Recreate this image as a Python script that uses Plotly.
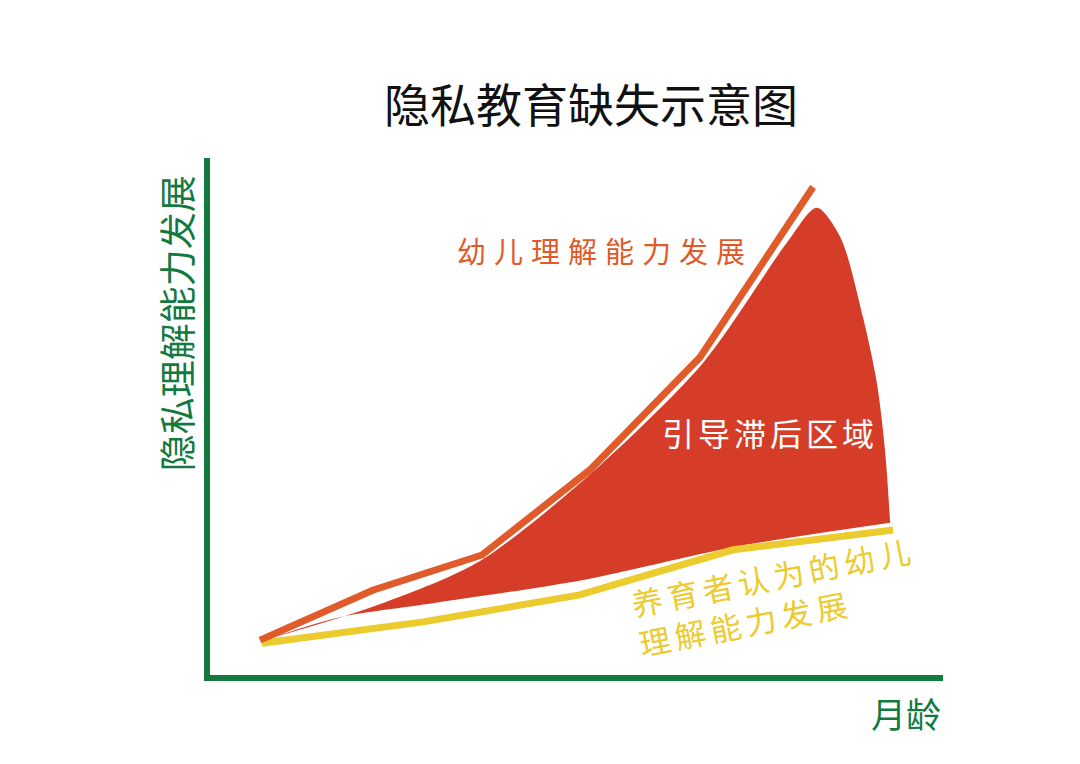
import plotly.graph_objects as go

# Data (x: 月龄 scale 0-100, y: 能力 scale 0-100)
child_x = [6.95, 22.3, 37.2, 51.9, 66.9, 82.3]
child_y = [7.5, 17.1, 23.9, 40.3, 62.0, 94.8]

carer_x = [7.2, 29.2, 50.5, 71.4, 93.2]
carer_y = [6.9, 11.0, 16.2, 24.9, 28.7]

# lagging region: lower edge and upper edge (meeting at both ends)
gap_low_x = [7.6, 17.8, 30.5, 51.0, 71.4, 92.8]
gap_low_y = [7.5, 11.9, 14.6, 19.1, 25.4, 30.1]
gap_up_x = [7.6, 22.3, 36.5, 51.0, 67.3, 78.7, 82.8, 86.0, 89.1, 91.0, 92.1, 92.8]
gap_up_y = [7.5, 13.9, 22.4, 38.3, 60.9, 84.0, 90.8, 85.2, 69.7, 57.0, 44.1, 30.1]

title = "隐私教育缺失示意图"
y_title = "隐私理解能力发展"
x_title = "月龄"
child_label = "幼儿理解能力发展"
gap_label = "引导滞后区域"
carer_label = ["养育者认为的幼儿", "理解能力发展"]

GREEN = "#13793F"
ORANGE = "#E05A2A"
RED = "#D63D28"
YELLOW = "#EBCB2E"
FONT = "Noto Sans CJK SC"


def spaced(t, px):
    return '<span style="letter-spacing:%dpx">%s</span>' % (px, t)


fig = go.Figure()
fig.add_trace(go.Scatter(x=gap_low_x, y=gap_low_y, mode="lines",
                         line=dict(color=RED, width=0, shape="spline", smoothing=0.8),
                         hoverinfo="skip", showlegend=False))
fig.add_trace(go.Scatter(x=gap_up_x, y=gap_up_y, mode="lines", fill="tonexty",
                         fillcolor=RED, line=dict(color=RED, width=0, shape="spline", smoothing=0.8),
                         hoverinfo="skip", showlegend=False))
fig.add_trace(go.Scatter(x=carer_x, y=carer_y, mode="lines",
                         line=dict(color=YELLOW, width=7), showlegend=False))
fig.add_trace(go.Scatter(x=child_x, y=child_y, mode="lines",
                         line=dict(color=ORANGE, width=7), showlegend=False))

ann = []
ann.append(dict(text=title, xref="paper", yref="paper", x=0.520, y=1.108, showarrow=False,
                xanchor="center", yanchor="middle",
                font=dict(family=FONT, size=46, color="#111111")))
ann.append(dict(text=y_title, xref="paper", yref="paper", x=-0.046, y=0.681, showarrow=False,
                xanchor="center", yanchor="middle",
                textangle=-90, font=dict(family=FONT, size=37, color=GREEN)))
ann.append(dict(text=x_title, xref="paper", yref="paper", x=0.950, y=-0.072, showarrow=False,
                xanchor="center", yanchor="middle",
                font=dict(family=FONT, size=35, color=GREEN)))
ann.append(dict(text=spaced(child_label, 8), x=54.0, y=82.7, showarrow=False,
                font=dict(family=FONT, size=29, color=ORANGE)))
ann.append(dict(text=spaced(gap_label, 4), x=76.4, y=47.6, showarrow=False,
                font=dict(family=FONT, size=32, color="white")))
ann.append(dict(text=spaced(carer_label[0], 5) + "<br>" + spaced(carer_label[1], 5),
                x=77.4, y=16.0, showarrow=False, align="left",
                textangle=-11, font=dict(family=FONT, size=31, color=YELLOW)))

fig.update_layout(
    width=1072, height=756,
    margin=dict(l=202, r=137, t=150, b=89),
    paper_bgcolor="white", plot_bgcolor="white",
    annotations=ann,
    xaxis=dict(range=[0.14, 100], showgrid=False, zeroline=False, showticklabels=False,
               ticks="", showline=True, linecolor=GREEN, linewidth=6),
    yaxis=dict(range=[0.77, 100.4], showgrid=False, zeroline=False, showticklabels=False,
               ticks="", showline=True, linecolor=GREEN, linewidth=6),
)
fig.write_html("out.html")
